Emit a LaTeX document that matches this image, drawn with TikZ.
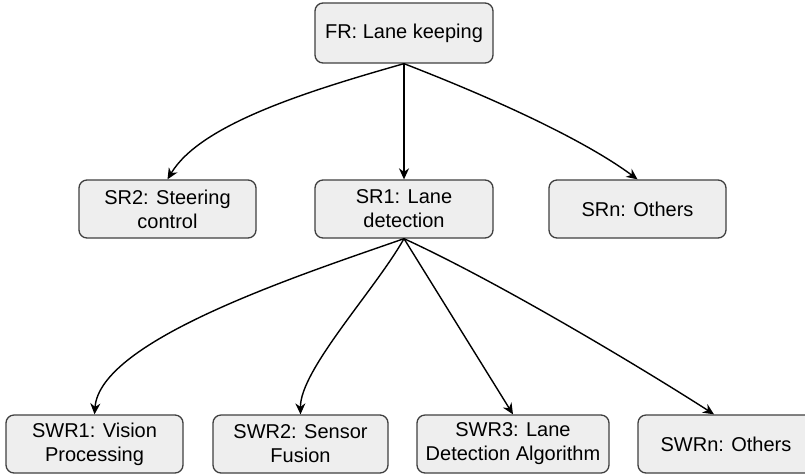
\documentclass[tikz,border=0pt]{standalone}
\usepackage{fontspec}
\setmainfont{Liberation Sans}
\usetikzlibrary{arrows.meta}

\definecolor{boxfill}{HTML}{EEEEEE}
\definecolor{boxline}{HTML}{3F3F3F}

\tikzset{
  req/.style={draw=boxline, fill=boxfill, line width=1.3pt, rounded corners=8pt,
    minimum height=58pt, inner sep=2pt, align=center,
    font=\fontsize{20}{24}\selectfont},
  link/.style={line width=1.4pt, -{Stealth[length=11pt,width=10pt,inset=3.5pt]}}
}

\begin{document}
\begin{tikzpicture}[x=1pt,y=-1pt]
  \useasboundingbox (0,0) rectangle (805,475);
  \clip (0,0) rectangle (805,475);

  % functional requirement
  \node[req, minimum width=178pt, minimum height=60pt] (fr) at (404,33) {FR: Lane keeping};

  % system requirements
  \node[req, minimum width=177pt] (sr2) at (167.5,209) {SR2: Steering\\control};
  \node[req, minimum width=178pt] (sr1) at (404,209) {SR1: Lane\\detection};
  \node[req, minimum width=177pt] (srn) at (637.5,209) {SRn: Others};

  % software requirements
  \node[req, minimum width=177pt] (swr1) at (94.5,444) {SWR1: Vision\\Processing};
  \node[req, minimum width=175pt] (swr2) at (300.5,444) {SWR2: Sensor\\Fusion};
  \node[req, minimum width=192pt] (swr3) at (513,444) {SWR3: Lane\\Detection Algorithm};
  \node[req, minimum width=176pt] (swrn) at (726,444) {SWRn: Others};

  \coordinate (swrnin) at ([xshift=-12pt]swrn.north);

  % FR -> SR
  \draw[link] (fr.south) .. controls (304,92) and (200,125) .. (sr2.north);
  \draw[link] (fr.south) -- (sr1.north);
  \draw[link] (fr.south) .. controls (503,102) and (587,142) .. (srn.north);

  % SR1 -> SWR
  \draw[link] (sr1.south) .. controls (300,275) and (100,340) .. (swr1.north);
  \draw[link] (sr1.south) .. controls (375,290) and (300,370) .. (swr2.north);
  \draw[link] (sr1.south) -- (swr3.north);
  \draw[link] (sr1.south) .. controls (503,284) and (653,375) .. (swrnin);
\end{tikzpicture}
\end{document}
